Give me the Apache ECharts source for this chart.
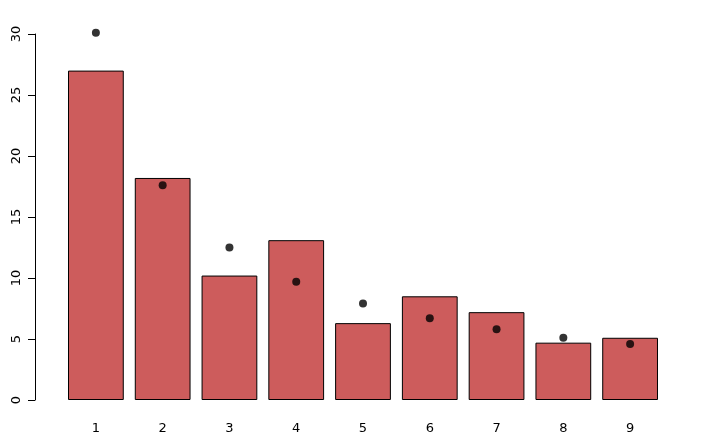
<!DOCTYPE html>
<html><head><meta charset="utf-8">
<script src="https://cdn.jsdelivr.net/npm/echarts@6/dist/echarts.min.js"></script>
<style>html,body{margin:0;background:#fff}#c{width:720px;height:443px}</style>
</head><body><div id="c"></div>
<script>
var digits = ['1','2','3','4','5','6','7','8','9'];
var observed = [27.0, 18.2, 10.2, 13.1, 6.3, 8.5, 7.2, 4.7, 5.1];
var expected = [30.1, 17.6, 12.5, 9.7, 7.9, 6.7, 5.8, 5.1, 4.6];

var chart = echarts.init(document.getElementById('c'));
chart.setOption({
    animation: false,
    grid: { left: 62.5, right: 56.5, top: 34, bottom: 43 },
    xAxis: {
        type: 'category', data: digits,
        axisLine: { show: false }, axisTick: { show: false },
        axisLabel: { color: '#000', fontSize: 13, margin: 22, fontFamily: 'DejaVu Sans' }
    },
    yAxis: {
        type: 'value', min: 0, max: 30, interval: 5, offset: 27.5,
        splitLine: { show: false },
        axisLine: { show: true, lineStyle: { color: '#000' } },
        axisTick: { show: true, length: 7, lineStyle: { color: '#000' } },
        axisLabel: { color: '#000', fontSize: 13, rotate: 90, margin: 12, fontFamily: 'DejaVu Sans' }
    },
    series: [{
        type: 'bar', data: observed, barCategoryGap: '16.5%',
        itemStyle: { color: '#cd5c5c', borderColor: '#000', borderWidth: 1 }
    }, {
        type: 'scatter', data: expected, symbolSize: 8, clip: false,
        itemStyle: { color: '#000' }
    }]
});
</script></body></html>
